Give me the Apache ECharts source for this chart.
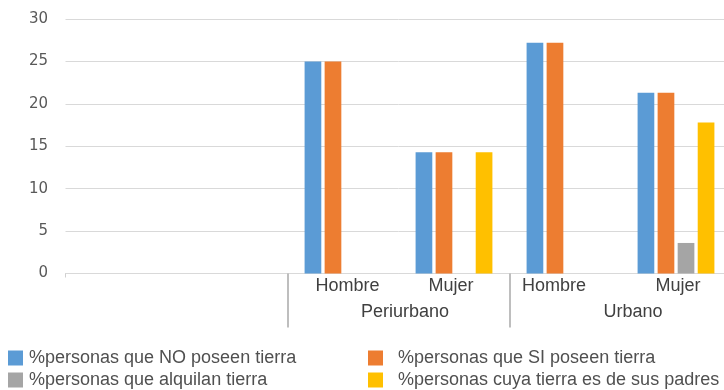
<!DOCTYPE html>
<html>
<head>
<meta charset="utf-8">
<script src="https://cdn.jsdelivr.net/npm/echarts@6/dist/echarts.min.js"></script>
<style>
  html, body { margin: 0; padding: 0; background: #ffffff; overflow: hidden; }
  /* the plot runs a few pixels past the right edge of the window */
  #chart { width: 732px; height: 390px; }
</style>
</head>
<body>
<div id="chart"></div>
<script>
// Categories: sex within each zone (the first zone has no data)
const subgroups = ['', '', 'Hombre', 'Mujer', 'Hombre', 'Mujer'];
const zones = ['', 'Periurbano', 'Urbano'];

// Value axis ticks
const yTicks = [0, 5, 10, 15, 20, 25, 30];

// Series (percent of persons)
const seriesNames = [
  '%personas que NO poseen tierra',
  '%personas que SI poseen tierra',
  '%personas que alquilan tierra',
  '%personas cuya tierra es de sus padres'
];
const noPoseen = [null, null, 25.0, 14.3, 27.2, 21.3];
const siPoseen = [null, null, 25.0, 14.3, 27.2, 21.3];
const alquilan = [null, null, 0, 0, 0, 3.6];
const padres   = [null, null, 0, 14.3, 0, 17.8];

const colors = ['#5b9bd5', '#ed7d31', '#a5a5a5', '#ffc000'];

// small horizontal nudges for the category labels (px)
const subShift = [0, 0, 4.5, -3, -11, 2];
const zoneShift = [0, 6.5, 12.5];

function shifted(text, dx) {
  const pad = dx >= 0 ? [0, 0, 0, 2 * dx] : [0, -2 * dx, 0, 0];
  return { value: text, textStyle: { padding: pad } };
}

const chart = echarts.init(document.getElementById('chart'), null, { renderer: 'canvas' });

const labelFont = { fontFamily: 'Liberation Sans', fontSize: 18, color: '#404040' };

const option = {
  animation: false,
  backgroundColor: '#ffffff',
  color: colors,
  grid: { left: 65.5, top: 19, width: 666, height: 254.5, containLabel: false },
  xAxis: [
    {
      type: 'category',
      data: subgroups.map((s, i) => shifted(s, subShift[i])),
      boundaryGap: true,
      axisLine: { show: true, lineStyle: { color: '#d9d9d9', width: 1 } },
      axisTick: {
        show: true, length: 4,
        interval: (idx) => idx === 0,
        lineStyle: { color: '#d0d0d0' }
      },
      axisLabel: Object.assign({ margin: 4, interval: 0 }, labelFont),
      splitLine: { show: false }
    },
    {
      type: 'category',
      data: zones.map((s, i) => shifted(s, zoneShift[i])),
      position: 'bottom',
      boundaryGap: true,
      axisLine: { show: false },
      axisTick: {
        show: true, length: 54,
        interval: (idx) => idx > 0,
        lineStyle: { color: '#a9a9a9', width: 1.5 }
      },
      axisLabel: Object.assign({ margin: 30, interval: 0 }, labelFont),
      splitLine: { show: false }
    }
  ],
  yAxis: {
    type: 'value',
    min: yTicks[0],
    max: yTicks[yTicks.length - 1],
    interval: yTicks[1] - yTicks[0],
    axisLine: { show: false },
    axisTick: { show: false },
    axisLabel: { margin: 17.5, fontFamily: 'DejaVu Sans', fontSize: 15, color: '#595959' },
    splitLine: { lineStyle: { color: '#d9d9d9', width: 1 } }
  },
  legend: [
    {
      orient: 'vertical', left: 8, top: 349, padding: 0, itemGap: 4,
      itemWidth: 15, itemHeight: 15, icon: 'rect',
      data: [seriesNames[0], seriesNames[2]],
      textStyle: { fontFamily: 'Liberation Sans', fontSize: 18, lineHeight: 18, color: '#505050', padding: [0, 0, 0, 1] }
    },
    {
      orient: 'vertical', left: 368, top: 349, padding: 0, itemGap: 4,
      itemWidth: 15, itemHeight: 15, icon: 'rect',
      data: [seriesNames[1], seriesNames[3]],
      textStyle: { fontFamily: 'Liberation Sans', fontSize: 18, lineHeight: 18, color: '#505050', padding: [0, 0, 0, 10] }
    }
  ],
  series: [noPoseen, siPoseen, alquilan, padres].map((vals, i) => ({
    name: seriesNames[i],
    type: 'bar',
    xAxisIndex: 0,
    data: vals,
    barWidth: 16.7,
    barGap: '20%',
    itemStyle: { color: colors[i] }
  }))
};

chart.setOption(option);
</script>
</body>
</html>
